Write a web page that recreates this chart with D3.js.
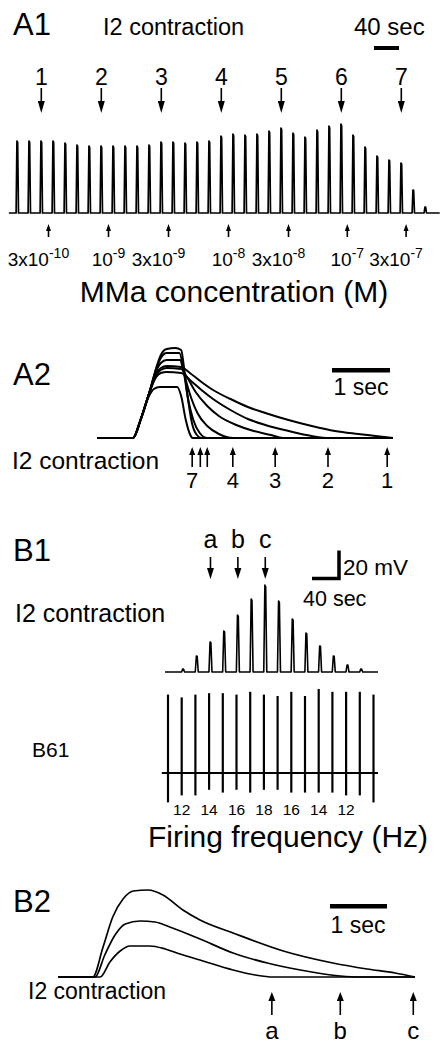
<!DOCTYPE html>
<html>
<head>
<meta charset="utf-8">
<script src="https://cdn.jsdelivr.net/npm/d3@7"></script>
<style>
    body { margin: 0; background: #fff; }
    svg text { font-family: "Liberation Sans", Arial, Helvetica, sans-serif; fill: #000; }
</style>
</head>
<body>
<div id="chart"></div>
<script>
// ---- A1: I2 contraction during MMa application (one peak per stimulus)
const a1Amplitude = [72, 72, 72, 72, 70, 68, 67, 67, 67, 67, 67, 68, 71, 71, 70, 71, 72, 77,
    79, 78, 79, 82, 85, 80, 76, 83, 87, 89, 78, 66, 57, 53, 50, 23, 6];
const a1MarkedStim = [2, 7, 12, 17, 22, 27, 32];
const a1MarkedLabels = ['1', '2', '3', '4', '5', '6', '7'];
const a1DoseStim = [2.6, 7.6, 12.6, 17.6, 22.6, 27.5, 32.4];
const a1DosePrefix = ['3x', '', '3x', '', '3x', '', '3x'];
const a1DoseExponent = ['-10', '-9', '-9', '-8', '-8', '-7', '-7'];
const a1SecPerStim = 19.2;

// ---- A2: superimposed contractions 1..7, [time (s), amplitude]
const a2Trace1 = [[0, 0], [0.62, 0], [0.75, 18], [0.9, 45], [1.02, 64], [1.1, 70], [1.2, 72], [1.45, 71],
    [1.6, 65], [1.8, 56], [2.0, 48], [2.3, 39], [2.6, 31], [2.9, 25], [3.3, 18], [3.7, 12], [4.1, 7],
    [4.5, 4], [4.8, 2], [5.1, 0]];
const a2Trace2 = [[0, 0], [0.62, 0], [0.75, 18], [0.9, 45], [1.02, 61], [1.1, 65], [1.2, 66], [1.45, 65],
    [1.6, 58], [1.8, 48], [2.0, 39], [2.3, 28], [2.6, 19], [2.9, 13], [3.3, 7], [3.7, 2], [4.0, 0], [5.1, 0]];
const a2Trace3 = [[0, 0], [0.62, 0], [0.75, 18], [0.9, 45], [1.02, 63], [1.1, 68], [1.2, 70], [1.45, 69],
    [1.55, 61], [1.7, 46], [1.9, 32], [2.1, 22], [2.4, 13], [2.7, 7], [3.0, 3], [3.2, 0], [5.1, 0]];
const a2Trace4 = [[0, 0], [0.62, 0], [0.75, 18], [0.9, 45], [1.02, 67], [1.1, 75], [1.2, 78], [1.43, 78],
    [1.5, 64], [1.6, 44], [1.73, 25], [1.9, 12], [2.1, 4], [2.35, 0], [5.1, 0]];
const a2Trace5 = [[0, 0], [0.62, 0], [0.75, 18], [0.9, 45], [1.02, 69], [1.1, 80], [1.2, 85], [1.42, 85],
    [1.48, 72], [1.56, 42], [1.66, 18], [1.77, 5], [1.9, 0], [5.1, 0]];
const a2Trace6 = [[0, 0], [0.62, 0], [0.75, 18], [0.9, 45], [1.02, 70], [1.1, 83], [1.2, 89], [1.35, 90],
    [1.45, 88], [1.5, 70], [1.57, 38], [1.64, 14], [1.72, 3], [1.8, 0], [5.1, 0]];
const a2Trace7 = [[0, 0], [0.62, 0], [0.75, 18], [0.88, 40], [0.98, 49], [1.08, 51], [1.38, 51],
    [1.45, 42], [1.53, 18], [1.6, 4], [1.65, 0], [5.1, 0]];
const a2EndTime = [5.0, 3.98, 3.07, 2.34, 1.9, 1.78, 1.64];
const a2EndLabels = ['1', '2', '3', '4', '', '', '7'];

// ---- B1: contraction vs B61 firing
const b1Contraction = [3, 16, 30, 41, 57, 73, 87, 71, 53, 39, 26, 16, 7, 3];
const b61Up = [56, 54, 56, 57, 57, 56, 58, 56, 55, 58, 55, 60, 58, 58, 58, 56];     // mV
const b61Down = [21, 16, 16, 12, 14, 12, 14, 12, 12, 14, 14, 14, 14, 16, 16, 21];   // mV
const b1FreqBurst = [1, 3, 5, 7, 9, 11, 13];
const b1FreqLabels = ['12', '14', '16', '18', '16', '14', '12'];
const b1MarkedSpike = [2, 4, 6];
const b1MarkedLabels = ['a', 'b', 'c'];
const b1ContractionLag = 1.1;   // bursts
const b1SecPerBurst = 20.3;

// ---- B2: superimposed contractions a, b, c
const b2TraceA = [[0, 0], [0.74, 0], [0.91, 15], [1.09, 26], [1.26, 31], [1.61, 31], [1.88, 28],
    [2.14, 23], [2.49, 17], [3.07, 7], [3.46, 2], [3.77, 0], [6.26, 0]];
const b2TraceB = [[0, 0], [0.65, 0], [0.82, 22], [1.0, 42], [1.18, 53], [1.44, 56], [1.7, 55],
    [1.96, 50], [2.49, 38], [3.07, 24], [3.67, 14], [4.25, 7], [4.95, 1], [5.3, 0], [6.26, 0]];
const b2TraceC = [[0, 0], [0.61, 0], [0.79, 30], [0.96, 60], [1.14, 78], [1.32, 86], [1.58, 87],
    [1.84, 82], [2.19, 67], [2.49, 57], [3.07, 44], [3.95, 26], [4.82, 14], [5.42, 8], [5.91, 4], [6.26, 0]];
const b2EndTime = [3.75, 4.95, 6.23];
const b2EndLabels = ['a', 'b', 'c'];

const svg = d3.select('#chart').append('svg')
    .attr('width', 441)
    .attr('height', 1045);

function addText(x, y, str, size, anchor) {
    return svg.append('text')
        .attr('x', x)
        .attr('y', y)
        .attr('text-anchor', anchor || 'start')
        .style('font-size', `${size}px`)
        .text(str);
}

// arrow with its head at yHead, tail at yTail
function addArrows(xs, yTail, yHead, headLen, halfW) {
    const dir = yHead > yTail ? 1 : -1;
    const g = svg.append('g');
    g.selectAll('line').data(xs).join('line')
        .attr('x1', d => d).attr('x2', d => d)
        .attr('y1', yTail).attr('y2', yHead - dir * headLen * 0.5)
        .attr('stroke', '#000').attr('stroke-width', 1.6);
    g.selectAll('path').data(xs).join('path')
        .attr('d', d => `M${d - halfW},${yHead - dir * headLen}L${d + halfW},${yHead - dir * headLen}L${d},${yHead}Z`)
        .attr('fill', '#000');
}

// spike train: narrow peaks on a baseline
function spikePoints(values, offset, halfBase, halfTop, from, to) {
    const pts = [[from, 0]];
    values.forEach((v, i) => {
        const c = i + offset;
        pts.push([c - halfBase, 0], [c - halfTop, v], [c + halfTop, v * 0.98], [c + halfBase, 0]);
    });
    pts.push([to, 0]);
    return pts;
}

// ================= A1
addText(13, 35, 'A1', 31);
addText(103, 35, 'I2 contraction', 23.5);
addText(354, 35, '40 sec', 24);

const a1X = d3.scaleLinear().domain([0, 34]).range([17.3, 425.3]);
const a1Y = d3.scaleLinear().domain([0, 100]).range([213, 113]);

svg.append('rect')
    .attr('x', 374).attr('y', 46)
    .attr('width', a1X(40 / a1SecPerStim) - a1X(0)).attr('height', 4)
    .attr('fill', '#000');

svg.selectAll('text.a1num').data(a1MarkedStim).join('text')
    .attr('class', 'a1num')
    .attr('x', d => a1X(d)).attr('y', 85)
    .attr('text-anchor', 'middle')
    .style('font-size', '23px')
    .text((d, i) => a1MarkedLabels[i]);
addArrows(a1MarkedStim.map(a1X), 88, 113, 12, 3.5);

const a1Line = d3.line().x(d => a1X(d[0])).y(d => a1Y(d[1]));
svg.append('path')
    .attr('d', a1Line(spikePoints(a1Amplitude, 0, 0.1, 0.03, -0.7, 35.2)))
    .attr('fill', 'none').attr('stroke', '#000').attr('stroke-width', 1.7)
    .attr('stroke-linejoin', 'round');

addArrows(a1DoseStim.map(a1X), 237, 224, 7, 2.5);

const doseText = svg.selectAll('text.dose').data(a1DoseStim).join('text')
    .attr('class', 'dose')
    .attr('y', 266)
    .attr('text-anchor', 'middle')
    .style('font-size', '19px');
doseText.append('tspan').text((d, i) => `${a1DosePrefix[i]}10`);
doseText.append('tspan').attr('dy', -8).style('font-size', '14px').text((d, i) => a1DoseExponent[i]);
// centre the power of ten on the arrow
const measure = svg.append('text').style('font-size', '19px');
doseText.attr('x', (d, i) => {
    measure.text(a1DosePrefix[i]);
    const w = a1DosePrefix[i] ? measure.node().getComputedTextLength() : 0;
    return a1X(d) - w / 2;
});
measure.remove();

addText(234, 302, 'MMa concentration (M)', 30, 'middle');

// ================= A2
addText(13, 385, 'A2', 31);
const a2X = d3.scaleLinear().domain([0, 5.1]).range([97, 393]);
const a2Y = d3.scaleLinear().domain([0, 100]).range([438, 338]);
const a2Line = d3.line().x(d => a2X(d[0])).y(d => a2Y(d[1])).curve(d3.curveMonotoneX);
[a2Trace1, a2Trace2, a2Trace3, a2Trace4, a2Trace5, a2Trace6, a2Trace7].forEach(tr => {
    svg.append('path')
        .attr('d', a2Line(tr))
        .attr('fill', 'none').attr('stroke', '#000').attr('stroke-width', 2);
});
svg.append('rect')
    .attr('x', 332).attr('y', 368)
    .attr('width', a2X(1) - a2X(0)).attr('height', 4.5)
    .attr('fill', '#000');
addText(361, 395, '1 sec', 23, 'middle');
addText(12, 469, 'I2 contraction', 24.5);
addArrows(a2EndTime.map(a2X), 467, 447, 8, 3);
svg.selectAll('text.a2num').data(a2EndTime).join('text')
    .attr('class', 'a2num')
    .attr('x', d => a2X(d)).attr('y', 488)
    .attr('text-anchor', 'middle')
    .style('font-size', '22px')
    .text((d, i) => a2EndLabels[i]);

// ================= B1
addText(13, 561, 'B1', 31);
const b1X = d3.scaleLinear().domain([0, 15]).range([168, 373.5]);
const b1Y = d3.scaleLinear().domain([0, 100]).range([672, 572]);
const b61Y = d3.scaleLinear().domain([0, 20]).range([773, 745]);

svg.selectAll('text.b1lab').data(b1MarkedSpike).join('text')
    .attr('class', 'b1lab')
    .attr('x', d => b1X(d + b1ContractionLag)).attr('y', 548)
    .attr('text-anchor', 'middle')
    .style('font-size', '25px')
    .text((d, i) => b1MarkedLabels[i]);
addArrows(b1MarkedSpike.map(d => b1X(d + b1ContractionLag)), 557, 579, 11, 3.5);

// scale bars 40 sec / 20 mV
const b1BarW = b1X(40 / b1SecPerBurst) - b1X(0);
const b1BarH = b61Y(0) - b61Y(20);
svg.append('path')
    .attr('d', `M${339 - b1BarW},578.5H339V${578.5 - b1BarH}`)
    .attr('fill', 'none').attr('stroke', '#000').attr('stroke-width', 3.5);
addText(343, 575, '20 mV', 22.5);
addText(303, 606, '40 sec', 21.5);
addText(15, 622, 'I2 contraction', 25);

const b1Line = d3.line().x(d => b1X(d[0])).y(d => b1Y(d[1]));
svg.append('path')
    .attr('d', b1Line(spikePoints(b1Contraction, b1ContractionLag, 0.11, 0.03, -0.22, 15.33)))
    .attr('fill', 'none').attr('stroke', '#000').attr('stroke-width', 1.6)
    .attr('stroke-linejoin', 'round');

addText(32, 757, 'B61', 21);
svg.append('line')
    .attr('x1', b1X(-0.45)).attr('x2', b1X(15.33))
    .attr('y1', b61Y(0)).attr('y2', b61Y(0))
    .attr('stroke', '#000').attr('stroke-width', 2);
svg.selectAll('line.burst').data(b61Up).join('line')
    .attr('class', 'burst')
    .attr('x1', (d, i) => b1X(i)).attr('x2', (d, i) => b1X(i))
    .attr('y1', d => b61Y(d)).attr('y2', (d, i) => b61Y(-b61Down[i]))
    .attr('stroke', '#000').attr('stroke-width', 2.2);
svg.selectAll('text.freq').data(b1FreqBurst).join('text')
    .attr('class', 'freq')
    .attr('x', d => b1X(d)).attr('y', 815)
    .attr('text-anchor', 'middle')
    .style('font-size', '15.5px')
    .text((d, i) => b1FreqLabels[i]);
addText(288, 847, 'Firing frequency (Hz)', 30, 'middle');

// ================= B2
addText(13, 912, 'B2', 31);
const b2X = d3.scaleLinear().domain([0, 6.26]).range([58, 415]);
const b2Y = d3.scaleLinear().domain([0, 100]).range([977, 877]);
const b2Line = d3.line().x(d => b2X(d[0])).y(d => b2Y(d[1])).curve(d3.curveMonotoneX);
[b2TraceA, b2TraceB, b2TraceC].forEach(tr => {
    svg.append('path')
        .attr('d', b2Line(tr))
        .attr('fill', 'none').attr('stroke', '#000').attr('stroke-width', 1.7);
});
svg.append('rect')
    .attr('x', 330).attr('y', 904)
    .attr('width', b2X(1) - b2X(0)).attr('height', 4.5)
    .attr('fill', '#000');
addText(358, 933, '1 sec', 23, 'middle');
addText(28, 999, 'I2 contraction', 23);
addArrows(b2EndTime.map(b2X), 1015, 992, 9, 3.5);
svg.selectAll('text.b2lab').data(b2EndTime).join('text')
    .attr('class', 'b2lab')
    .attr('x', d => b2X(d)).attr('y', 1039)
    .attr('text-anchor', 'middle')
    .style('font-size', '24px')
    .text((d, i) => b2EndLabels[i]);
</script>
</body>
</html>
